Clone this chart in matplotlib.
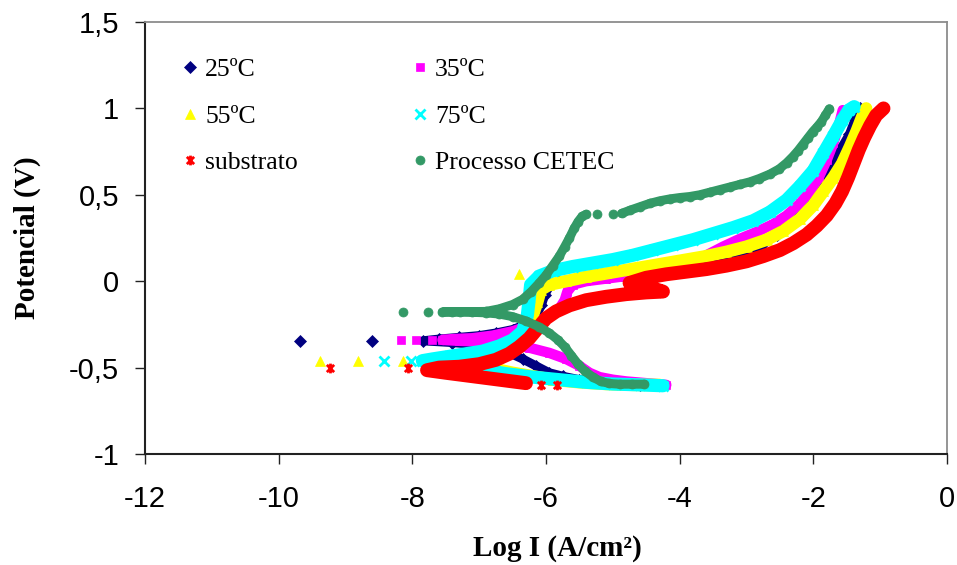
import numpy as np
import matplotlib
matplotlib.use("Agg")
import matplotlib.pyplot as plt
from matplotlib.path import Path
from matplotlib.ticker import FuncFormatter, MultipleLocator

# polarization curves: log current density (A/cm2) vs potential (V)
# main runs = cathodic branch then anodic branch, tail = loose points

x_25 = [-4.3, -4.6, -4.9, -5.2, -5.5, -5.75, -5.95, -6.15, -6.35, -6.55, -6.8, -7.1, -7.4, -7.84,
        -7.6, -7.3, -7.0, -6.75, -6.5, -6.3, -6.15, -6.07, -6.02, -5.95, -5.8, -5.55, -5.3, -5.05,
        -4.8, -4.55, -4.3, -4.0, -3.7, -3.4, -3.1, -2.8, -2.55, -2.35, -2.15, -1.95, -1.8, -1.66,
        -1.55, -1.46, -1.38, -1.3]
e_25 = [-0.60, -0.60, -0.595, -0.585, -0.57, -0.55, -0.53, -0.49, -0.45, -0.415, -0.385, -0.365, -0.355, -0.345,
        -0.335, -0.325, -0.315, -0.30, -0.28, -0.25, -0.20, -0.14, -0.08, -0.03, 0.0, 0.015, 0.02, 0.022,
        0.025, 0.03, 0.045, 0.08, 0.11, 0.13, 0.155, 0.20, 0.27, 0.35, 0.43, 0.53, 0.62, 0.71,
        0.79, 0.85, 0.93, 1.0]
x_25_tail = [-8.6, -9.68]
e_25_tail = [-0.345, -0.345]

x_35 = [-4.2, -4.5, -4.8, -5.0, -5.2, -5.35, -5.5, -5.7, -5.95, -6.25, -6.6, -7.0, -7.3, -7.55,
        -7.4, -7.1, -6.8, -6.5, -6.2, -5.95, -5.8, -5.72, -5.68, -5.6, -5.4, -5.1, -4.8, -4.5,
        -4.2, -3.9, -3.6, -3.35, -3.1, -2.85, -2.6, -2.4, -2.2, -2.05, -1.92, -1.8, -1.7, -1.62, -1.56]
e_35 = [-0.60, -0.59, -0.58, -0.57, -0.555, -0.53, -0.49, -0.45, -0.415, -0.385, -0.36, -0.35, -0.345, -0.34,
        -0.335, -0.33, -0.315, -0.29, -0.25, -0.20, -0.16, -0.11, -0.06, -0.02, 0.0, 0.015, 0.03, 0.05,
        0.07, 0.10, 0.15, 0.20, 0.245, 0.285, 0.33, 0.38, 0.45, 0.52, 0.60, 0.70, 0.80, 0.90, 0.99]
x_35_tail = [-7.7, -7.95, -8.17]
e_35_tail = [-0.34, -0.34, -0.34]

x_55 = [-4.3, -4.7, -5.1, -5.5, -5.9, -6.2, -6.5, -6.8, -7.1, -7.4, -7.65,
        -7.5, -7.2, -6.9, -6.65, -6.45, -6.3, -6.2, -6.13, -6.08, -5.95, -5.7, -5.4, -5.1, -4.8,
        -4.5, -4.2, -3.9, -3.6, -3.3, -3.0, -2.7, -2.45, -2.2, -2.0, -1.85, -1.7, -1.57, -1.45,
        -1.35, -1.27, -1.21]
e_55 = [-0.60, -0.60, -0.595, -0.585, -0.57, -0.55, -0.53, -0.505, -0.485, -0.47, -0.46,
        -0.45, -0.435, -0.41, -0.375, -0.33, -0.27, -0.20, -0.12, -0.05, -0.02, 0.0, 0.025, 0.045, 0.065,
        0.085, 0.105, 0.125, 0.145, 0.17, 0.20, 0.24, 0.29, 0.36, 0.44, 0.52, 0.60, 0.68, 0.78,
        0.87, 0.95, 1.0]
x_55_tail = [-8.14, -8.82, -9.38, -6.4]
e_55_tail = [-0.46, -0.46, -0.46, 0.04]

x_75 = [-4.25, -4.6, -5.0, -5.4, -5.8, -6.2, -6.6, -7.0, -7.3, -7.6, -7.85,
        -7.7, -7.45, -7.2, -6.95, -6.7, -6.5, -6.35, -6.28, -6.25, -6.23, -6.1, -5.9, -5.6, -5.3,
        -5.0, -4.7, -4.4, -4.1, -3.8, -3.5, -3.2, -2.9, -2.65, -2.4, -2.2, -2.0, -1.85, -1.7,
        -1.57, -1.47, -1.39]
e_75 = [-0.605, -0.60, -0.595, -0.585, -0.57, -0.555, -0.535, -0.51, -0.49, -0.47, -0.46,
        -0.45, -0.435, -0.42, -0.405, -0.375, -0.34, -0.29, -0.20, -0.10, -0.02, 0.03, 0.06, 0.085, 0.105,
        0.125, 0.15, 0.18, 0.21, 0.24, 0.275, 0.31, 0.35, 0.40, 0.47, 0.55, 0.64, 0.74, 0.84,
        0.93, 0.99, 1.01]
x_75_tail = [-8.02, -8.43]
e_75_tail = [-0.46, -0.46]

x_sub = [-6.3, -6.6, -6.9, -7.2, -7.5, -7.78,
         -7.6, -7.3, -7.0, -6.75, -6.55, -6.4, -6.25, -6.12, -6.0, -5.85, -5.65, -5.4, -5.1, -4.8,
         -4.5, -4.25, -4.5, -4.75, -4.5, -4.2, -3.9, -3.6, -3.3, -3.0, -2.75, -2.5, -2.3, -2.1,
         -1.95, -1.8, -1.67, -1.57, -1.48, -1.4, -1.32, -1.24, -1.15, -1.06, -0.95]
e_sub = [-0.59, -0.575, -0.56, -0.545, -0.53, -0.515,
         -0.50, -0.495, -0.48, -0.455, -0.42, -0.38, -0.33, -0.27, -0.215, -0.175, -0.14, -0.11, -0.09, -0.075,
         -0.065, -0.06, -0.03, -0.01, 0.02, 0.04, 0.055, 0.07, 0.09, 0.115, 0.145, 0.18, 0.22, 0.27,
         0.32, 0.38, 0.45, 0.52, 0.60, 0.68, 0.76, 0.83, 0.90, 0.96, 1.0]
x_sub_tail = [-5.84, -6.07, -8.07, -9.23]
e_sub_tail = [-0.60, -0.60, -0.50, -0.50]

x_cetec = [-4.53, -4.72, -4.9, -5.05, -5.18, -5.3, -5.42, -5.52, -5.62, -5.72, -5.82, -5.95, -6.1,
           -6.3, -6.5, -6.7, -6.9, -7.1, -7.29, -7.41, -7.55,
           -6.9, -6.7, -6.5, -6.35, -6.22, -6.1, -6.0, -5.9, -5.8, -5.72, -5.65, -5.58, -5.52, -5.46,
           -5.4]
e_cetec = [-0.596, -0.596, -0.596, -0.592, -0.58, -0.555, -0.52, -0.48, -0.43, -0.38, -0.34, -0.30, -0.265,
           -0.23, -0.205, -0.19, -0.183, -0.18, -0.178, -0.178, -0.178,
           -0.175, -0.16, -0.135, -0.105, -0.06, -0.01, 0.035, 0.09, 0.145, 0.20, 0.25, 0.305, 0.345, 0.375,
           0.387]
x_cetec_hi = [-4.87, -4.75, -4.6, -4.45, -4.3, -4.15, -4.0, -3.85, -3.7, -3.55,
              -3.4, -3.25, -3.1, -2.95, -2.81, -2.65, -2.51, -2.4, -2.31, -2.23, -2.16, -2.08, -2.01,
              -1.94, -1.88, -1.82, -1.76]
e_cetec_hi = [0.392, 0.41, 0.43, 0.45, 0.465, 0.476, 0.484, 0.49, 0.50, 0.515,
              0.53, 0.545, 0.56, 0.575, 0.594, 0.62, 0.65, 0.685, 0.72, 0.755, 0.79, 0.83, 0.865,
              0.895, 0.923, 0.96, 0.998]
x_cetec_tail = [-7.77, -8.14, -5.24, -5.0]
e_cetec_tail = [-0.178, -0.18, 0.387, 0.387]

labels = ["25ºC", "35ºC", "55ºC", "75ºC", "substrato", "Processo CETEC"]

# excel style asterisk: x with a vertical bar
star = Path([(0, -1), (0, 1), (-0.75, -0.75), (0.75, 0.75), (-0.75, 0.75), (0.75, -0.75)],
            [Path.MOVETO, Path.LINETO] * 3)

styles = [
    dict(color="#000080", marker="D", ms=6.0, mew=0.5, band=6.5),
    dict(color="#FF00FF", marker="s", ms=5.8, mew=0.5, band=7.5),
    dict(color="#FFFF00", marker="^", ms=7.5, mew=0.5, band=9.0),
    dict(color="#00FFFF", marker="x", ms=6.5, mew=2.0, band=9.5),
    dict(color="#FF0000", marker=star, ms=7.0, mew=2.0, band=10.0),
    dict(color="#339966", marker="o", ms=6.5, mew=0.5, band=6.5),
]

series = [
    ([(x_25, e_25)], (x_25_tail, e_25_tail)),
    ([(x_35, e_35)], (x_35_tail, e_35_tail)),
    ([(x_55, e_55)], (x_55_tail, e_55_tail)),
    ([(x_75, e_75)], (x_75_tail, e_75_tail)),
    ([(x_sub, e_sub)], (x_sub_tail, e_sub_tail)),
    ([(x_cetec, e_cetec), (x_cetec_hi, e_cetec_hi)], (x_cetec_tail, e_cetec_tail)),
]

serif = "Liberation Serif"
sans = "Liberation Sans"

fig = plt.figure(figsize=(9.57, 5.65), dpi=100)
ax = fig.add_axes([145 / 957, 1 - 454 / 565, (947 - 145) / 957, (454 - 22) / 565])

handles = []
for (runs, (xt, et)), st, lab in zip(series, styles, labels):
    c = st["color"]
    mk = dict(ls="none", marker=st["marker"], ms=st["ms"], mew=st["mew"],
              color=c, mec=c, mfc=c)
    for x, e in runs:
        # dense scan drawn as a thick band with the markers on it
        ax.plot(x, e, "-", color=c, lw=st["band"], solid_capstyle="round",
                solid_joinstyle="round")
        ax.plot(x, e, **mk)
    h, = ax.plot(xt, et, label=lab, **mk)
    handles.append(h)

ax.set_xlim(-12, 0)
ax.set_ylim(-1, 1.5)
ax.xaxis.set_major_locator(MultipleLocator(2))
ax.yaxis.set_major_locator(MultipleLocator(0.5))
comma = FuncFormatter(lambda v, p: ("%g" % v).replace(".", ","))
ax.xaxis.set_major_formatter(comma)
ax.yaxis.set_major_formatter(comma)

for side in ["left", "bottom"]:
    ax.spines[side].set_color("#222222")
    ax.spines[side].set_linewidth(1.5)
for side in ["top", "right"]:
    ax.spines[side].set_color("#8c8c8c")
    ax.spines[side].set_linewidth(1.3)

ax.tick_params(axis="both", direction="out", length=7.5, width=1.0, color="#222222",
               labelsize=21, labelcolor="black")
ax.tick_params(axis="x", pad=15)
ax.tick_params(axis="y", pad=11)
for t in ax.get_xticklabels() + ax.get_yticklabels():
    t.set_fontfamily(sans)

ax.set_xlabel("Log I (A/cm²)", fontsize=21, fontweight="bold", fontfamily=serif)
ax.set_ylabel("Potencial (V)", fontsize=21, fontweight="bold", fontfamily=serif)
ax.xaxis.set_label_coords((557 - 145) / 802, (454 - 548) / 432)
ax.xaxis.label.set_va("center")
ax.yaxis.set_label_coords((27 - 145) / 802, 0.5)
ax.yaxis.label.set_va("center")

# legend laid out row by row: 25/35, 55/75, substrato/CETEC
order = [0, 2, 4, 1, 3, 5]
leg = ax.legend([handles[i] for i in order], [labels[i] for i in order], ncol=2,
                loc="upper left", bbox_to_anchor=(0.034, 0.94), frameon=False,
                prop=dict(family=serif, size=18.5), handlelength=0.6, handletextpad=0.28,
                columnspacing=4.45, labelspacing=0.92, borderaxespad=0)

fig.savefig("out.png", dpi=100)
